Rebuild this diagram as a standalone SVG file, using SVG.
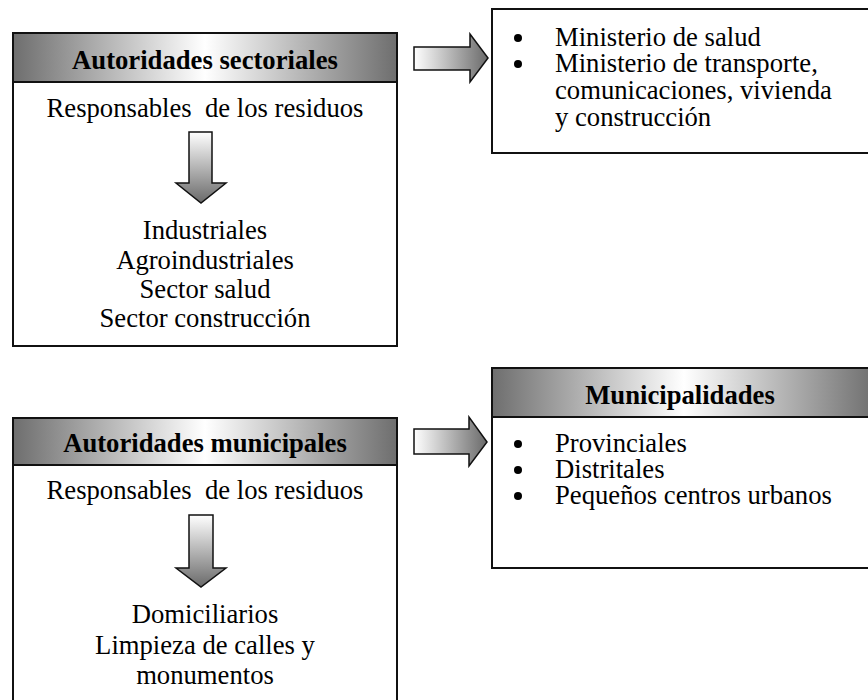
<svg xmlns="http://www.w3.org/2000/svg" width="868" height="700" viewBox="0 0 868 700">
<style>
.box{fill:#fff;stroke:#111;stroke-width:2}
.hdr{fill:url(#gh);stroke:#111;stroke-width:2}
.arr{stroke:#111;stroke-width:1.5;stroke-linejoin:miter}
.t{font-family:"Liberation Serif","Times New Roman",serif;font-size:26.67px;fill:#000}
.b{font-weight:bold}
.c{text-anchor:middle}
</style>
<defs>
<linearGradient id="gh" x1="0" y1="0" x2="1" y2="0">
<stop offset="0" stop-color="#6e6e6e"/>
<stop offset="0.5" stop-color="#ffffff"/>
<stop offset="1" stop-color="#6e6e6e"/>
</linearGradient>
<linearGradient id="gah" x1="0" y1="0" x2="1" y2="0">
<stop offset="0" stop-color="#ffffff"/>
<stop offset="1" stop-color="#6a6a6a"/>
</linearGradient>
<linearGradient id="gav" x1="0" y1="0" x2="0" y2="1">
<stop offset="0" stop-color="#ffffff"/>
<stop offset="1" stop-color="#6a6a6a"/>
</linearGradient>
</defs>

<g id="autoridades-sectoriales">
<rect class="box" x="13" y="33" width="384" height="313"/>
<rect class="hdr" x="13" y="33" width="384" height="49"/>
<text class="t b c" x="205" y="69">Autoridades sectoriales</text>
<text class="t c" x="205" y="117" xml:space="preserve">Responsables  de los residuos</text>
<path class="arr" fill="url(#gav)" d="M189,132 H212 V183 H226 L201,203 L176,183 H189 Z"/>
<text class="t c" x="205" y="239">Industriales</text>
<text class="t c" x="205" y="269">Agroindustriales</text>
<text class="t c" x="205" y="298">Sector salud</text>
<text class="t c" x="205" y="327">Sector construcción</text>
</g>

<g id="ministerios">
<rect class="box" x="492" y="9" width="384" height="144"/>
<circle cx="518" cy="38" r="4"/>
<circle cx="518" cy="64" r="4"/>
<text class="t" x="555" y="46">Ministerio de salud</text>
<text class="t" x="555" y="72">Ministerio de transporte,</text>
<text class="t" x="555" y="99">comunicaciones, vivienda</text>
<text class="t" x="555" y="126">y construcción</text>
</g>

<g id="autoridades-municipales">
<rect class="box" x="13" y="418" width="384" height="300"/>
<rect class="hdr" x="13" y="418" width="384" height="47"/>
<text class="t b c" x="205" y="452">Autoridades municipales</text>
<text class="t c" x="205" y="499" xml:space="preserve">Responsables  de los residuos</text>
<path class="arr" fill="url(#gav)" d="M189,515 H213 V568 H226 L201,587 L176,568 H189 Z"/>
<text class="t c" x="205" y="623">Domiciliarios</text>
<text class="t c" x="205" y="654">Limpieza de calles y</text>
<text class="t c" x="205" y="684">monumentos</text>
</g>

<g id="municipalidades">
<rect class="box" x="492" y="368" width="384" height="200"/>
<rect class="hdr" x="492" y="368" width="384" height="49"/>
<text class="t b c" x="680" y="404">Municipalidades</text>
<circle cx="518" cy="444" r="4"/>
<circle cx="518" cy="470" r="4"/>
<circle cx="518" cy="496" r="4"/>
<text class="t" x="555" y="452">Provinciales</text>
<text class="t" x="555" y="478">Distritales</text>
<text class="t" x="555" y="504">Pequeños centros urbanos</text>
</g>

<g id="connectors">
<path class="arr" fill="url(#gah)" d="M414,47 H470 V34 L488,58 L470,82 V70 H414 Z"/>
<path class="arr" fill="url(#gah)" d="M414,429 H469 V417 L487,442 L469,466 V454 H414 Z"/>
</g>
</svg>
